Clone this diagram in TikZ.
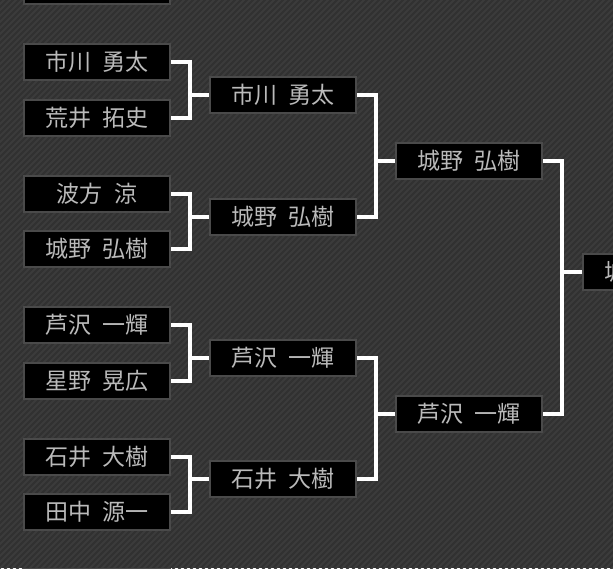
\documentclass[tikz,border=0pt]{standalone}
\usepackage{fontspec}
\newfontfamily\jpfont[WordSpace=2.2]{Noto Sans CJK JP}
\usetikzlibrary{calc}
\definecolor{bgdark}{HTML}{313131}
\definecolor{bgstripe}{HTML}{3B3B3B}
\definecolor{boxedge}{HTML}{4A4A4A}
\definecolor{namegray}{HTML}{BABABA}

\begin{document}
\begin{tikzpicture}[x=1pt, y=-1pt,
 player/.style={draw=boxedge, line width=2pt, fill=black, minimum width=146pt, minimum height=36pt, inner sep=0pt, font=\jpfont\fontsize{23}{23}\selectfont, text=namegray},
 wire/.style={draw=white, line width=4pt}]
\useasboundingbox (0,0) rectangle (613,568);
\clip (0,0) rectangle (613,568);
\fill[bgdark] (0,0) rectangle (613,568);
\foreach \s in {-620,-614,...,620}
  \draw[bgstripe, line width=2pt] (\s,570) -- ++(572,-572);
% first round
\node[player] (p0) at (97,-14)    {};
\node[player] (p1) at (97,62)     {市川 勇太};
\node[player] (p2) at (97,117.5)  {荒井 拓史};
\node[player] (p3) at (97,193.5)  {波方 涼};
\node[player] (p4) at (97,249)    {城野 弘樹};
\node[player] (p5) at (97,325)    {芦沢 一輝};
\node[player] (p6) at (97,380.5)  {星野 晃広};
\node[player] (p7) at (97,456.5)  {石井 大樹};
\node[player] (p8) at (97,512)    {田中 源一};
\node[player] (p9) at (97,586.5)  {};
% later rounds
\node[player] (q1) at (283,95)    {市川 勇太};
\node[player] (q2) at (283,216.5) {城野 弘樹};
\node[player] (q3) at (283,357.5) {芦沢 一輝};
\node[player] (q4) at (283,479)   {石井 大樹};
\node[player] (r1) at (469,161)   {城野 弘樹};
\node[player] (r2) at (469,413.5) {芦沢 一輝};
\node[player] (s1) at (656,271.5) {城野 弘樹};
\foreach \a/\b/\c in {p1/p2/q1, p3/p4/q2, p5/p6/q3, p7/p8/q4, q1/q2/r1, q3/q4/r2, r1/r2/s1} {
  \draw[wire] (\a.east) -- ++(18.5,0) coordinate (m) |- (\b.east);
  \draw[wire] (\c.west) -- (\c.west -| m);
}
\end{tikzpicture}
\end{document}
